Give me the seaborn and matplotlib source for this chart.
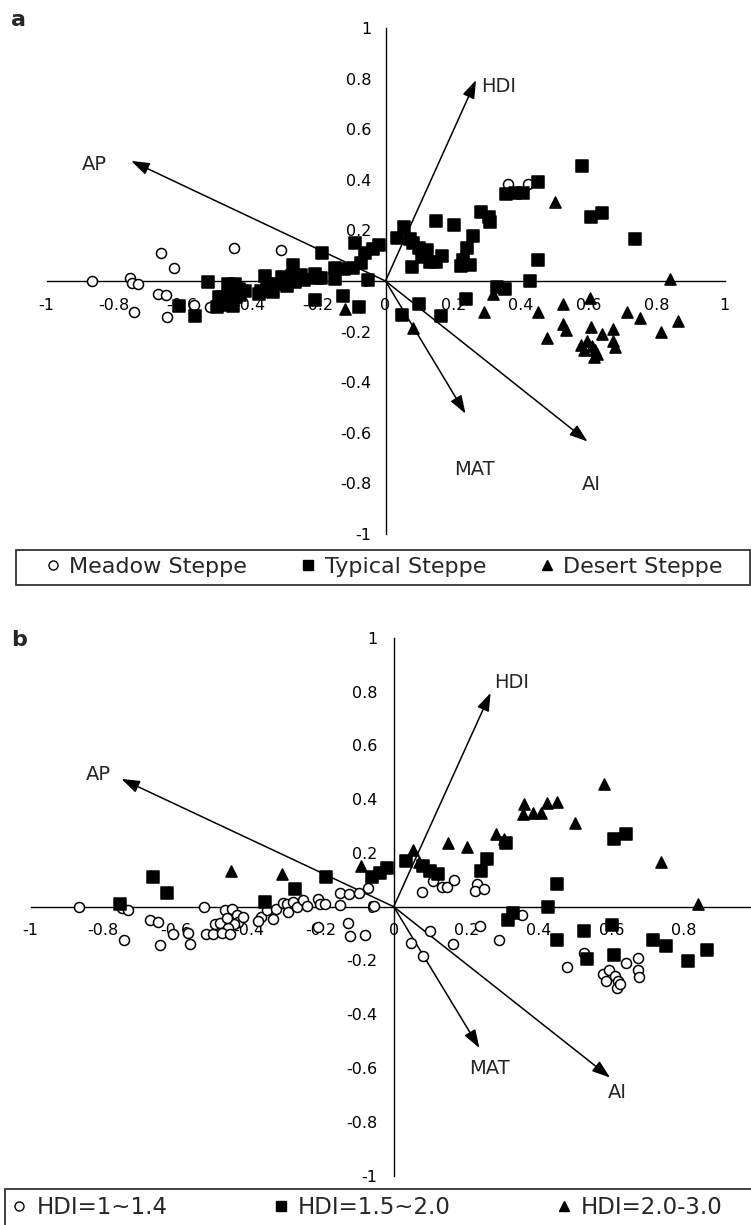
import matplotlib
matplotlib.use("Agg")
import numpy as np
import pandas as pd
import matplotlib.pyplot as plt
from matplotlib.lines import Line2D
from matplotlib.patches import Rectangle
from matplotlib.ticker import FuncFormatter
import seaborn as sns

sns.set_style("white")
plt.rcParams["font.family"] = ["DejaVu Sans"]

# ---------------- data (site scores) ----------------
site_x = [-0.867, -0.755, -0.749, -0.731, -0.662, -0.625, -0.743, -0.671, -0.648, -0.644,
          -0.609, -0.566, -0.561, -0.523, -0.517, -0.497, -0.448, -0.492, -0.478, -0.465,
          -0.445, -0.431, -0.428, -0.441, -0.456, -0.474, -0.451, -0.414, -0.459, -0.366,
          -0.373, -0.350, -0.355, -0.333, -0.324, -0.304, -0.295, -0.290, -0.277, -0.266,
          -0.272, -0.309, -0.249, -0.240, -0.208, -0.203, -0.189, -0.186, -0.209, -0.148,
          -0.122, -0.095, -0.072, -0.053, -0.148, -0.125, -0.120, -0.079, -0.091, -0.061,
          -0.038, -0.019, 0.033, 0.054, 0.071, 0.080, 0.100, 0.123, 0.107, 0.132,
          0.148, 0.166, 0.077, 0.150, 0.201, 0.230, 0.224, 0.250, 0.258, 0.240,
          0.283, 0.304, 0.309, 0.049, 0.080, 0.100, 0.164, 0.238, 0.290, 0.316,
          0.328, 0.353, 0.426, 0.449, 0.360, 0.355, 0.383, 0.405, 0.421, 0.449,
          0.500, 0.579, 0.607, 0.639, 0.736, 0.839, 0.449, 0.477, 0.524, 0.525,
          0.533, 0.602, 0.607, 0.577, 0.594, 0.586, 0.610, 0.618, 0.615, 0.623,
          0.639, 0.672, 0.672, 0.677, 0.713, 0.750, 0.812, 0.864]
site_y = [0.000, 0.010, -0.006, -0.012, 0.109, 0.052, -0.122, -0.050, -0.056, -0.143,
          -0.100, -0.096, -0.139, -0.002, -0.103, -0.103, 0.131, -0.065, -0.062, -0.012,
          -0.010, -0.031, -0.056, -0.065, -0.079, -0.096, -0.100, -0.040, -0.041, -0.040,
          -0.052, -0.012, 0.019, -0.044, -0.010, 0.015, 0.010, -0.019, 0.019, -0.002,
          0.065, 0.122, 0.025, 0.003, 0.027, 0.010, 0.010, 0.112, -0.075, 0.052,
          0.048, 0.052, 0.071, 0.003, 0.006, -0.060, -0.110, -0.104, 0.152, 0.112,
          0.125, 0.144, 0.169, 0.212, 0.165, 0.150, 0.131, 0.121, 0.094, 0.075,
          0.075, 0.100, 0.056, 0.237, 0.222, 0.084, 0.060, 0.065, 0.178, 0.131,
          0.272, 0.252, 0.235, -0.135, -0.185, -0.090, -0.137, -0.072, -0.122, -0.050,
          -0.022, -0.031, 0.000, 0.084, 0.383, 0.346, 0.350, 0.350, 0.385, 0.391,
          0.312, 0.455, 0.252, 0.271, 0.167, 0.009, -0.122, -0.225, -0.091, -0.172,
          -0.193, -0.069, -0.181, -0.252, -0.237, -0.275, -0.256, -0.275, -0.302, -0.289,
          -0.209, -0.189, -0.237, -0.262, -0.122, -0.146, -0.200, -0.160]
# steppe type per site (M = Meadow, T = Typical, D = Desert)
steppe_code = list("MMMMMMMMMM" "TMTTMTMTTT" "TTTTTTTTTT" "TTTTTTTTTT"
                   "TMTTTTTTTT" "TTTTTTDTTT" "TTTTTTTTTT" "TTTTTTTTTT"
                   "TTTTDTTTDD" "TTTTMTTTMT" "DTTTTDDDDD" "DDDDDDDDDD"
                   "DDDDDDDD")
# HDI class per site (L = 1~1.4, M = 1.5~2.0, H = 2.0-3.0)
hdi_code = list("LMLLMMLLLL" "LLLLLLHLLL" "LLLLLLLLLL" "LLMLLLLLLL"
                "MHLLLLLMLL" "LLLLLLLLHM" "MMMHHMMMLL" "LLLHHLLLMM"
                "HHMLLLLLLM" "MLMMHHHHHH" "HHMMHHMLML" "MMMLLLLLLL"
                "LLLLMMMM")

steppe_names = {"M": "Meadow Steppe", "T": "Typical Steppe", "D": "Desert Steppe"}
hdi_names = {"L": "HDI=1~1.4", "M": "HDI=1.5~2.0", "H": "HDI=2.0-3.0"}

# environmental vectors (biplot arrows)
env_vars = ["AP", "HDI", "MAT", "AI"]
env_x = [-0.750, 0.267, 0.236, 0.596]
env_y = [0.475, 0.795, -0.525, -0.635]

tick_values = [-1.0, -0.8, -0.6, -0.4, -0.2, 0.0, 0.2, 0.4, 0.6, 0.8, 1.0]
xtick_values_b = [-1.0, -0.8, -0.6, -0.4, -0.2, 0.0, 0.2, 0.4, 0.6, 0.8]

df = pd.DataFrame({
    "x": site_x,
    "y": site_y,
    "steppe": [steppe_names[c] for c in steppe_code],
    "hdi": [hdi_names[c] for c in hdi_code],
})

# ---------------- styles ----------------
group_styles = [("o", "white", 52), ("s", "black", 64), ("^", "black", 64)]
legend_ms = [6.5, 7.0, 7.5]

W, H = 751, 1225
fig = plt.figure(figsize=(W / 100, H / 100), dpi=100)


def fx(px):
    return px / W


def fy(py):
    return 1 - py / H


def fmt(v, pos):
    v = round(v, 1)
    if v == 0:
        return "0"
    return f"{v:g}"


def draw_panel(ax, col, order, label_xy, ylab_pad, xticks):
    for name, (mk, face, size) in zip(order, group_styles):
        sub = df[df[col] == name]
        sns.scatterplot(data=sub, x="x", y="y", ax=ax, marker=mk, color=face,
                        edgecolor="black", linewidth=1.1, s=size, zorder=4,
                        legend=False)
    for name, vx, vy in zip(env_vars, env_x, env_y):
        ax.annotate("", xy=(vx, vy), xytext=(0, 0),
                    arrowprops=dict(arrowstyle="-|>,head_length=1.1,head_width=0.38",
                                    mutation_scale=10, lw=1.1, color="black",
                                    shrinkA=0, shrinkB=0), zorder=3)
        lx, ly = label_xy[name]
        ax.text(lx, ly, name, fontsize=14, ha="center", va="center", zorder=5)
    ax.set_xlim(-1, 1)
    ax.set_ylim(-1, 1)
    ax.set_xlabel("")
    ax.set_ylabel("")
    for s in ("top", "right"):
        ax.spines[s].set_visible(False)
    for s in ("left", "bottom"):
        ax.spines[s].set_position(("data", 0))
        ax.spines[s].set_color("black")
        ax.spines[s].set_linewidth(1.0)
    ax.set_xticks(xticks)
    ax.set_yticks(tick_values)
    ax.xaxis.set_major_formatter(FuncFormatter(fmt))
    ax.yaxis.set_major_formatter(FuncFormatter(fmt))
    ax.tick_params(axis="both", direction="in", length=4.5, width=1.0,
                   labelsize=11.5, colors="black")
    ax.tick_params(axis="x", pad=12)
    ax.tick_params(axis="y", pad=ylab_pad)
    ax.set_facecolor("none")
    ax.grid(False)


# ---------------- panel a ----------------
ax_a = fig.add_axes([fx(46.5), fy(533.7), fx(678), 505.4 / H])
labels_a = {"AP": (-0.858, 0.462), "HDI": (0.333, 0.768),
            "MAT": (0.263, -0.744), "AI": (0.607, -0.807)}
draw_panel(ax_a, "steppe", list(steppe_names.values()), labels_a, 10, tick_values)

# ---------------- panel b ----------------
ax_b = fig.add_axes([fx(30.7), fy(1175.7), fx(726), 538 / H])
labels_b = {"AP": (-0.815, 0.49), "HDI": (0.325, 0.832),
            "MAT": (0.265, -0.60), "AI": (0.615, -0.69)}
draw_panel(ax_b, "hdi", list(hdi_names.values()), labels_b, 12, xtick_values_b)

# panel letters
fig.text(fx(18.5), fy(19.5), "a", fontsize=16, fontweight="bold", ha="center", va="center")
fig.text(fx(19.5), fy(640), "b", fontsize=16, fontweight="bold", ha="center", va="center")


# ---------------- legends ----------------
def make_handles():
    hs = []
    for (mk, face, _), ms in zip(group_styles, legend_ms):
        hs.append(Line2D([], [], marker=mk, linestyle="none", markerfacecolor=face,
                         markeredgecolor="black", markeredgewidth=1.0, markersize=ms))
    return hs


def add_legend(labels, x0, x1, yc, fs):
    fig.legend(make_handles(), labels, loc="center",
               bbox_to_anchor=(fx(x0), fy(yc) - 0.005, fx(x1 - x0), 0.01),
               mode="expand", ncol=3, frameon=False, borderpad=0, borderaxespad=0,
               handlelength=0.5, handletextpad=0.5, columnspacing=0.5, fontsize=fs)


add_legend(list(steppe_names.values()), 47, 723, 567, 16)
fig.add_artist(Rectangle((fx(16), fy(585)), fx(733.5), 35 / H, transform=fig.transFigure,
                         fill=False, edgecolor="#333333", lw=1.3))

add_legend(list(hdi_names.values()), 13.5, 723, 1208, 16.5)
fig.add_artist(Rectangle((fx(5), -0.05), 1.0, fy(1189) + 0.05, transform=fig.transFigure,
                         fill=False, edgecolor="#333333", lw=1.3))

fig.savefig("out.png", dpi=100)
